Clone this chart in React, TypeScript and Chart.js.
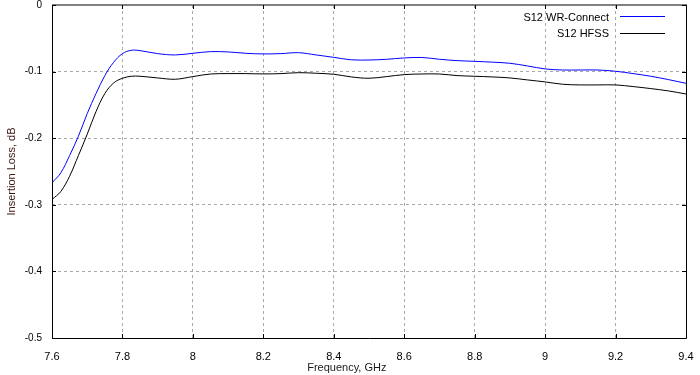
import React, { useEffect, useRef } from "react";
import { Chart, registerables } from "chart.js";

Chart.register(...registerables);

const freqs = [
  7.6, 7.625, 7.65, 7.675, 7.7, 7.725, 7.75, 7.775, 7.8, 7.825, 7.85, 7.9, 7.95,
  8.0, 8.05, 8.1, 8.15, 8.2, 8.25, 8.3, 8.35, 8.4, 8.45, 8.5, 8.55, 8.6, 8.65,
  8.7, 8.75, 8.8, 8.85, 8.9, 8.95, 9.0, 9.05, 9.1, 9.15, 9.2, 9.25, 9.3, 9.35, 9.4,
];

const wrConnect = [
  -0.267, -0.252, -0.226, -0.197, -0.163, -0.133, -0.106, -0.086, -0.073, -0.068,
  -0.0685, -0.073, -0.075, -0.0725, -0.07, -0.0705, -0.0725, -0.0735, -0.073,
  -0.0716, -0.075, -0.0786, -0.0823, -0.0826, -0.0815, -0.0795, -0.0788, -0.0815,
  -0.0835, -0.0846, -0.0858, -0.0875, -0.0915, -0.096, -0.0976, -0.0976, -0.0976,
  -0.0995, -0.103, -0.107, -0.112, -0.1176,
];

const hfss = [
  -0.292, -0.28, -0.257, -0.226, -0.194, -0.16, -0.133, -0.117, -0.11, -0.107,
  -0.107, -0.1095, -0.1115, -0.1075, -0.1036, -0.103, -0.103, -0.1035, -0.103,
  -0.1016, -0.1025, -0.104, -0.108, -0.11, -0.1075, -0.1045, -0.1036, -0.1036,
  -0.106, -0.107, -0.108, -0.1095, -0.1125, -0.1155, -0.119, -0.12, -0.12, -0.12,
  -0.1225, -0.1255, -0.129, -0.1336,
];

const seriesLabels = ["S12 WR-Connect", "S12 HFSS"];
const seriesColors = ["#0000ff", "#000000"];

const xTickValues = [7.6, 7.8, 8.0, 8.2, 8.4, 8.6, 8.8, 9.0, 9.2, 9.4];
const yTickValues = [0, -0.1, -0.2, -0.3, -0.4, -0.5];

const xTitle = "Frequency, GHz";
const yTitle = "Insertion Loss, dB";

const FONT = "'Liberation Sans', Arial, sans-serif";

const fmt = (v: number) => {
  const n = Number(Number(v).toFixed(2));
  return n === 0 ? "0" : String(n);
};

const framePlugin = {
  id: "framePlugin",
  afterDatasetsDraw(chart: any) {
    const { ctx, chartArea } = chart;
    const { left, right, top, bottom } = chartArea;
    const xs = chart.scales.x;
    const ys = chart.scales.y;
    ctx.save();
    ctx.strokeStyle = "#000";
    ctx.lineWidth = 1;
    ctx.beginPath();
    ctx.moveTo(Math.round(left) + 0.5, top);
    ctx.lineTo(Math.round(left) + 0.5, Math.round(bottom) + 0.5);
    ctx.lineTo(Math.round(right) + 0.5, Math.round(bottom) + 0.5);
    ctx.lineTo(Math.round(right) + 0.5, top);
    ctx.stroke();
    ctx.strokeStyle = "#808080";
    ctx.lineWidth = 2;
    ctx.beginPath();
    ctx.moveTo(left, Math.round(top));
    ctx.lineTo(right + 1, Math.round(top));
    ctx.stroke();
    ctx.strokeStyle = "#000";
    ctx.lineWidth = 1;
    const tl = 4;
    ctx.beginPath();
    xTickValues.forEach((v) => {
      const px = Math.round(xs.getPixelForValue(v)) + 0.5;
      ctx.moveTo(px, bottom);
      ctx.lineTo(px, bottom - tl);
      ctx.moveTo(px, top);
      ctx.lineTo(px, top + tl);
    });
    yTickValues.forEach((v) => {
      const py = Math.round(ys.getPixelForValue(v)) + 0.5;
      ctx.moveTo(left, py);
      ctx.lineTo(left + tl, py);
      ctx.moveTo(right, py);
      ctx.lineTo(right - tl, py);
    });
    ctx.stroke();
    ctx.restore();
  },
  afterDraw(chart: any) {
    const { ctx, chartArea } = chart;
    ctx.save();
    ctx.font = `11px ${FONT}`;
    chart.data.datasets.forEach((ds: any, i: number) => {
      const textY = 18 + i * 15.5;
      const lineY = 15.5 + i * 17;
      ctx.fillStyle = "#000";
      ctx.textAlign = "right";
      ctx.textBaseline = "middle";
      ctx.fillText(ds.label, 609, textY);
      ctx.strokeStyle = ds.borderColor;
      ctx.lineWidth = 1;
      ctx.beginPath();
      ctx.moveTo(620, Math.round(lineY) + 0.5);
      ctx.lineTo(665, Math.round(lineY) + 0.5);
      ctx.stroke();
    });
    ctx.fillStyle = "#1a1a1a";
    ctx.textAlign = "center";
    ctx.textBaseline = "middle";
    ctx.fillText(xTitle, chartArea.left + (chartArea.right - chartArea.left) * 0.465, 368);
    ctx.restore();
  },
};

export default function App() {
  const ref = useRef<HTMLCanvasElement | null>(null);

  useEffect(() => {
    document.body.style.margin = "0";
    if (!ref.current) return;
    const chart = new Chart(ref.current, {
      type: "line",
      data: {
        datasets: [
          {
            label: seriesLabels[0],
            data: freqs.map((f, i) => ({ x: f, y: wrConnect[i] })),
            borderColor: seriesColors[0],
            borderWidth: 1,
            pointRadius: 0,
            tension: 0.35,
            fill: false,
          },
          {
            label: seriesLabels[1],
            data: freqs.map((f, i) => ({ x: f, y: hfss[i] })),
            borderColor: seriesColors[1],
            borderWidth: 1,
            pointRadius: 0,
            tension: 0.35,
            fill: false,
          },
        ],
      },
      options: {
        responsive: false,
        animation: false,
        layout: { autoPadding: false, padding: { left: 0, top: 5, right: 14, bottom: 0 } },
        plugins: {
          legend: { display: false },
          tooltip: { enabled: false },
        },
        scales: {
          x: {
            type: "linear",
            min: 7.6,
            max: 9.4,
            afterBuildTicks: (scale: any) => {
              scale.ticks = xTickValues.map((v) => ({ value: v }));
            },
            afterFit: (scale: any) => {
              scale.height = 37;
              scale.paddingLeft = 0;
              scale.paddingRight = 0;
              scale.paddingTop = 0;
              scale.paddingBottom = 0;
            },
            ticks: {
              callback: (v: any) => fmt(v),
              font: { size: 11, family: FONT },
              color: "#000",
              padding: 12,
              maxRotation: 0,
              autoSkip: false,
            },
            grid: {
              color: "#a8a8a8",
              lineWidth: 1,
              drawTicks: false,
            },
            border: { display: false, dash: [3, 3] },
          },
          y: {
            type: "linear",
            min: -0.5,
            max: 0,
            afterBuildTicks: (scale: any) => {
              scale.ticks = yTickValues.map((v) => ({ value: v }));
            },
            afterFit: (scale: any) => {
              scale.width = 52;
              scale.paddingLeft = 0;
              scale.paddingRight = 0;
              scale.paddingTop = 0;
              scale.paddingBottom = 0;
            },
            ticks: {
              callback: (v: any) => fmt(v),
              font: { size: 10, family: FONT },
              color: "#000",
              padding: 10,
              autoSkip: false,
            },
            grid: {
              color: "#a8a8a8",
              lineWidth: 1,
              drawTicks: false,
            },
            border: { display: false, dash: [3, 3] },
            title: {
              display: true,
              text: yTitle,
              color: "#3c1414",
              font: { size: 11, family: FONT },
              padding: { top: 5, bottom: 0 },
            },
          },
        },
      },
      plugins: [framePlugin],
    });
    return () => chart.destroy();
  }, []);

  return (
    <div style={{ position: "absolute", left: 0, top: 0, width: 700, height: 375, background: "#fff" }}>
      <canvas ref={ref} width={700} height={375} />
    </div>
  );
}
